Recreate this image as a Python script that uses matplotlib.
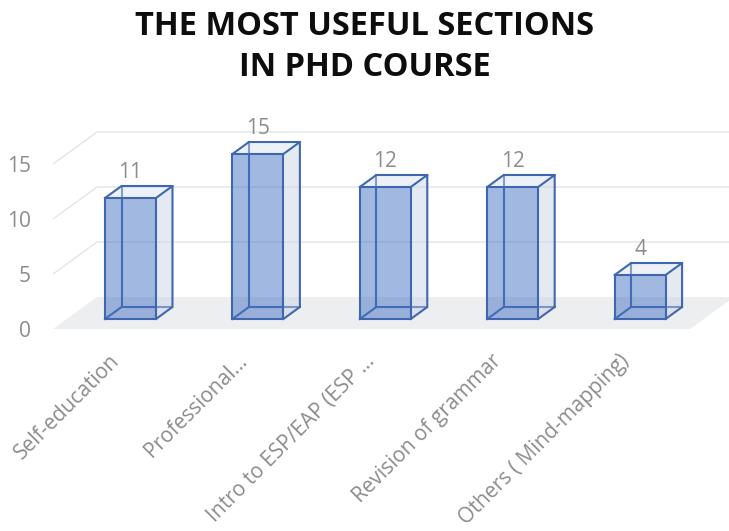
import matplotlib
matplotlib.use("Agg")
import matplotlib.pyplot as plt
from matplotlib.patches import Polygon

# ---- data ---------------------------------------------------------------
categories = [
    "Self-education",
    "Professional...",
    "Intro to ESP/EAP (ESP ...",
    "Revision of grammar",
    "Others ( Mind-mapping)",
]
counts = [11, 15, 12, 12, 4]
y_ticks = [0, 5, 10, 15]
title_lines = ["THE MOST USEFUL SECTIONS", "IN PHD COURSE"]

# ---- figure / axes ------------------------------------------------------
W, H, DPI = 729, 531, 100
fig = plt.figure(figsize=(W / DPI, H / DPI), dpi=DPI)
ax = fig.add_axes([0, 0, 1, 1])

CAT_PX = 127.4      # pixels per category
UNIT_PX = 11.0      # pixels per value unit
X0_PX = 116.75      # x pixel of category 0 on the front plane
Y0_PX = 329.0       # y pixel (from top) of value 0 on the front plane
ax.set_xlim(-X0_PX / CAT_PX, (W - X0_PX) / CAT_PX)
ax.set_ylim(-(H - Y0_PX) / UNIT_PX, Y0_PX / UNIT_PX)
ax.axis("off")

# oblique depth projection (d = 0 front of floor, d = 1 back wall)
DX = 44 / CAT_PX
DY = 32 / UNIT_PX


def proj(x, v, d):
    return (x + d * DX, v + d * DY)


FONT = "Open Sans"
GREY = "#8C8C8C"
EDGE = "#3F67B0"
GRID = "#E3E5E8"

n = len(categories)
xl, xr = -0.5, n - 0.5

# floor
floor = Polygon([proj(xl, 0, 0), proj(xr, 0, 0), proj(xr, 0, 1), proj(xl, 0, 1)],
                closed=True, facecolor="#EDEEF0", edgecolor="none", zorder=1)
ax.add_patch(floor)

# gridlines on side wall and back wall
for t in y_ticks[1:]:
    p0 = proj(xl, t, 0)
    p1 = proj(xl, t, 1)
    p2 = proj(xr, t, 1)
    ax.plot([p0[0], p1[0], p2[0]], [p0[1], p1[1], p2[1]],
            color=GRID, lw=1.0, zorder=0.5, solid_capstyle="butt")

# y tick labels
for t in y_ticks:
    x, y = proj(xl, t, 0)
    ax.text(x - 22 / CAT_PX, y - 0.2, str(t), ha="right", va="center",
            fontsize=15, color=GREY, family=FONT)

# bars
half = 0.2
df, db = 0.3125, 0.6875
lw = 1.5
for i, v in enumerate(counts):
    x0, x1 = i - half, i + half
    FBL, FBR = proj(x0, 0, df), proj(x1, 0, df)
    FTL, FTR = proj(x0, v, df), proj(x1, v, df)
    BBL, BBR = proj(x0, 0, db), proj(x1, 0, db)
    BTL, BTR = proj(x0, v, db), proj(x1, v, db)

    # hidden edges
    for a, b in [(BBL, BTL), (BBL, BBR), (FBL, BBL)]:
        ax.plot([a[0], b[0]], [a[1], b[1]], color=EDGE, lw=lw, zorder=2)

    # faces
    ax.add_patch(Polygon([FBR, BBR, BTR, FTR], closed=True,
                         facecolor="#C6D0E3", alpha=0.45, edgecolor="none", zorder=3))
    ax.add_patch(Polygon([FTL, FTR, BTR, BTL], closed=True,
                         facecolor="#D6DEEE", alpha=0.45, edgecolor="none", zorder=3))
    ax.add_patch(Polygon([FBL, FBR, FTR, FTL], closed=True,
                         facecolor="#4472C4", alpha=0.5, edgecolor="none", zorder=3))

    # visible edges
    for path in ([FBL, FBR, FTR, FTL, FBL], [FBR, BBR, BTR, FTR], [FTL, BTL, BTR]):
        ax.plot([p[0] for p in path], [p[1] for p in path], color=EDGE, lw=lw,
                zorder=4, solid_joinstyle="miter")

    # value label
    lx, ly = proj(i, v, df)
    ax.text(lx, ly + 2.3, str(v), ha="center", va="center", fontsize=15,
            color=GREY, family=FONT, zorder=5)

    # category label
    cx, cy = proj(i, 0, df)
    ax.text(cx - 14 / CAT_PX, -29 / UNIT_PX, categories[i], rotation=45,
            rotation_mode="anchor", ha="right", va="center", fontsize=15,
            color=GREY, family=FONT)

# title
for k, line in enumerate(title_lines):
    fig.text(0.5, 1 - (35 + 41 * k) / H, line, ha="center", va="baseline",
             fontsize=23.5, fontweight="bold", color="#0D0D0D", family=FONT)

fig.savefig("out.png", dpi=DPI)
